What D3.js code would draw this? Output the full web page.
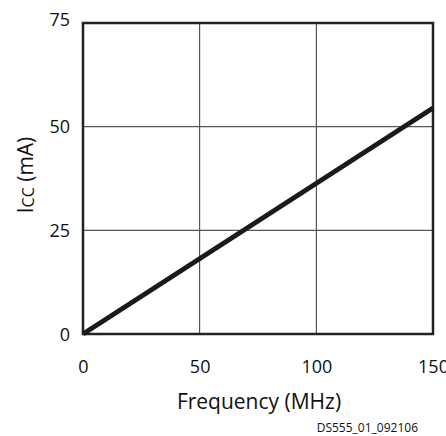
<!DOCTYPE html>
<html><head><meta charset="utf-8">
<script src="https://cdn.jsdelivr.net/npm/d3@7"></script>
<style>body{margin:0;background:#fff}text{font-family:"Open Sans","Noto Sans",sans-serif;fill:#111}</style>
</head><body>
<svg id="c" width="446" height="436"></svg>
<script>
const freq = [0, 150];
const icc = [0, 54.5];
const xTicks = [0, 50, 100, 150];
const yTicks = [0, 25, 50, 75];

const svg = d3.select("#c");
const L = 83, R = 433, T = 23, B = 334;
const x = d3.scaleLinear().domain([0, 150]).range([L, R]);
const y = d3.scaleLinear().domain([0, 75]).range([B, T]);

// grid
svg.append("g").selectAll("line").data(xTicks.slice(1, -1)).join("line")
  .attr("x1", d => x(d)).attr("x2", d => x(d)).attr("y1", T).attr("y2", B)
  .attr("stroke", "#333").attr("stroke-width", 1);
svg.append("g").selectAll("line").data(yTicks.slice(1, -1)).join("line")
  .attr("x1", L).attr("x2", R).attr("y1", d => y(d)).attr("y2", d => y(d))
  .attr("stroke", "#555").attr("stroke-width", 1.2);

// frame
svg.append("rect").attr("x", L).attr("y", T).attr("width", R - L).attr("height", B - T)
  .attr("fill", "none").attr("stroke", "#222").attr("stroke-width", 2.5);

// data line
const pts = freq.map((f, i) => [f, icc[i]]);
svg.append("path").datum(pts)
  .attr("d", d3.line().x(d => x(d[0])).y(d => y(d[1])))
  .attr("stroke", "#1a1a1a").attr("stroke-width", 5).attr("fill", "none");

// axes labels
const xAxis = d3.axisBottom(x).tickValues(xTicks).tickSize(0).tickPadding(0);
const gx = svg.append("g").attr("transform", `translate(0,${B})`).call(xAxis);
gx.select(".domain").remove();
gx.selectAll("text").attr("y", 39).attr("dy", 0).attr("font-size", 18).attr("font-family", null);

const yAxis = d3.axisLeft(y).tickValues(yTicks).tickSize(0).tickPadding(0);
const gy = svg.append("g").attr("transform", `translate(${L},0)`).call(yAxis);
gy.select(".domain").remove();
gy.selectAll("text").attr("x", -13).attr("dy", "0.35em").attr("font-size", 18).attr("font-family", null)
  .attr("y", d => d === 75 ? -4 : 0);

svg.append("text").attr("x", 259).attr("y", 409).attr("text-anchor", "middle")
  .attr("font-size", 21).text("Frequency (MHz)");

const yl = svg.append("text").attr("transform", "translate(33,175) rotate(-90)")
  .attr("text-anchor", "middle").attr("font-size", 21);
yl.append("tspan").text("I");
yl.append("tspan").attr("font-size", 16).attr("dy", 1).text("CC");
yl.append("tspan").attr("dy", -1).text(" (mA)");

svg.append("text").attr("x", 418).attr("y", 432).attr("text-anchor", "end")
  .attr("font-size", 12).text("DS555_01_092106");
</script>
</body></html>
